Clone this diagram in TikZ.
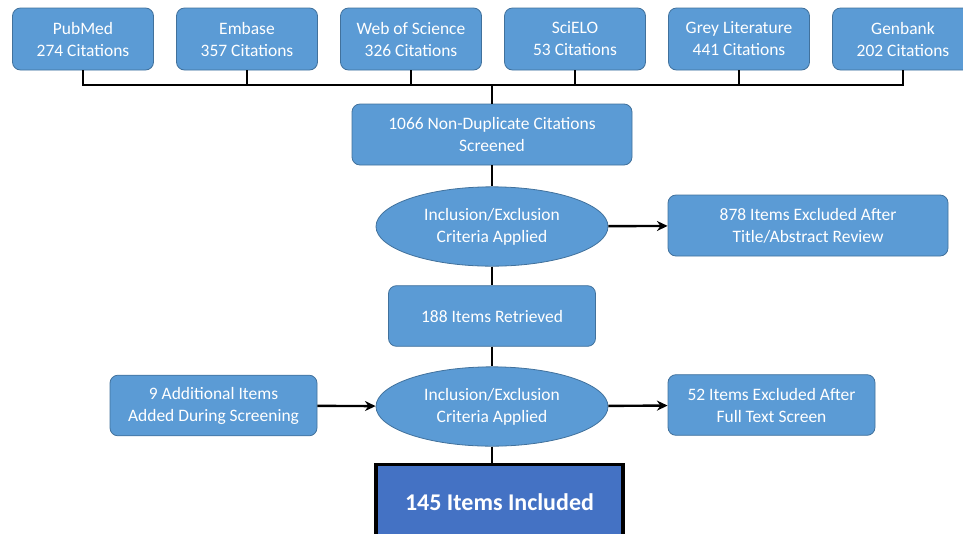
\documentclass[tikz,border=0pt]{standalone}
\usepackage{fontspec}
\setmainfont{Carlito}
\usepackage{tikz}
\usetikzlibrary{arrows.meta}
\usetikzlibrary{shapes.geometric}

\definecolor{boxblue}{HTML}{5B9BD5}
\definecolor{boxedge}{HTML}{41719C}
\definecolor{finalblue}{HTML}{4472C4}

\begin{document}
\begin{tikzpicture}[x=0.75pt,y=-0.75pt]
  \tikzstyle{box} = [rectangle, rounded corners=6pt, fill=boxblue, draw=boxedge, line width=0.6pt, text=white, align=center, inner sep=0pt, font=\fontsize{13.1}{16.5}\selectfont]
  \tikzstyle{source} = [box, minimum width=105.75pt, minimum height=46.5pt]
  \tikzstyle{wide} = [box, minimum width=210pt, minimum height=45.75pt]
  \tikzstyle{narrow} = [box, minimum width=155.25pt, minimum height=45.5pt]
  \tikzstyle{criteria} = [ellipse, fill=boxblue, draw=boxedge, line width=0.6pt, text=white, align=center, inner sep=0pt, minimum width=174pt, minimum height=59.5pt, font=\fontsize{13.1}{16.5}\selectfont]
  \tikzstyle{line} = [draw=black, line width=1.8pt]
  \tikzstyle{arrow} = [line, -{Stealth[length=8pt,width=7.5pt]}]

  \useasboundingbox (0,0) rectangle (963,533);

  \node (PubMed) [source] at (83,39) {PubMed\\274 Citations};
  \node (Embase) [source] at (247,39) {Embase\\357 Citations};
  \node (WoS) [source] at (411,39) {Web of Science\\326 Citations};
  \node (SciELO) [source] at (575,39) {SciELO\\53 Citations};
  \node (Grey) [source] at (739,39) {Grey Literature\\441 Citations};
  \node (Genbank) [source] at (903,39) {Genbank\\202 Citations};

  \node (Screened) [wide] at (492,134.5) {1066 Non-Duplicate Citations\\Screened};
  \node (Crit1) [criteria] at (492,226.5) {Inclusion/Exclusion\\Criteria Applied};
  \node (Excl1) [wide] at (808,225.5) {878 Items Excluded After\\Title/Abstract Review};
  \node (Retrieved) [narrow] at (492,316) {188 Items Retrieved};
  \node (Crit2) [criteria] at (492,406.5) {Inclusion/Exclusion\\Criteria Applied};
  \node (Added) [narrow] at (213.5,405.5) {9 Additional Items\\Added During Screening};
  \node (Excl2) [narrow] at (771.5,405) {52 Items Excluded After\\Full Text Screen};
  \node (Included) [rectangle, fill=finalblue, draw=black, line width=2.3pt, text=white, inner sep=0pt, minimum width=185.25pt, minimum height=57pt, font=\fontsize{18}{20}\selectfont\bfseries] at (499.5,502.5) {145 Items Included};

  \coordinate (bus) at (492,85);

  \foreach \src in {PubMed,Embase,WoS,SciELO,Grey,Genbank}
    \draw[line] (\src.south) |- (bus);
  \draw[line] (bus) -- (Screened.north);
  \draw[line] (Screened) -- (Crit1);
  \draw[line] (Crit1) -- (Retrieved);
  \draw[line] (Retrieved) -- (Crit2);
  \draw[line] (Crit2.south) -- (Crit2.south |- Included.north);
  \draw[arrow] (Crit1) -- (Excl1);
  \draw[arrow] (Added) -- (Crit2);
  \draw[arrow] (Crit2) -- (Excl2);
\end{tikzpicture}
\end{document}
